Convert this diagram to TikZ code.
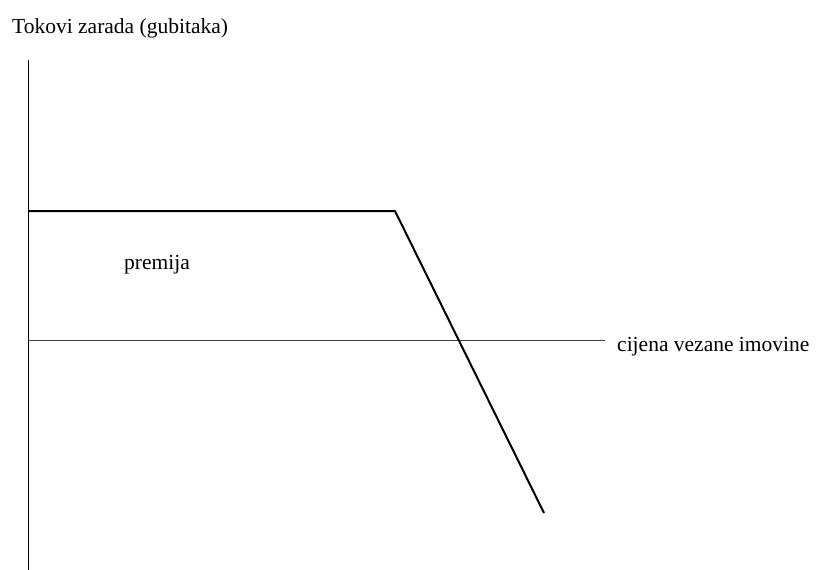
\documentclass[tikz,border=0pt]{standalone}
\usepackage{fontspec}
\setmainfont{Liberation Serif}
\begin{document}
\begin{tikzpicture}[x=1pt,y=-1pt,font=\fontsize{21.5}{24}\selectfont]
\useasboundingbox (0,0) rectangle (817,570);
\coordinate (ytop) at (28.5,60);
\coordinate (ybot) at (28.5,570);
\coordinate (o) at (28.5,340);
\coordinate (xend) at (605,340);
\coordinate (p0) at (28.5,211);
\coordinate (k) at (395,211);
\coordinate (p1) at (544,513);

\node[anchor=base west,inner sep=0pt] (ylab) at (12,33) {Tokovi zarada (gubitaka)};
\node[anchor=base west,inner sep=0pt] (prem) at (124,269) {premija};
\node[anchor=base west,inner sep=0pt] (xlab) at (617,351) {cijena vezane imovine};

\path[draw,line width=1pt,-] (ytop) -- (ybot);
\path[draw,black!75,line width=1pt,-] (o) -- (xend);
\path[draw,line width=2pt,-] (p0) -- (k) -- (p1);
\end{tikzpicture}
\end{document}
